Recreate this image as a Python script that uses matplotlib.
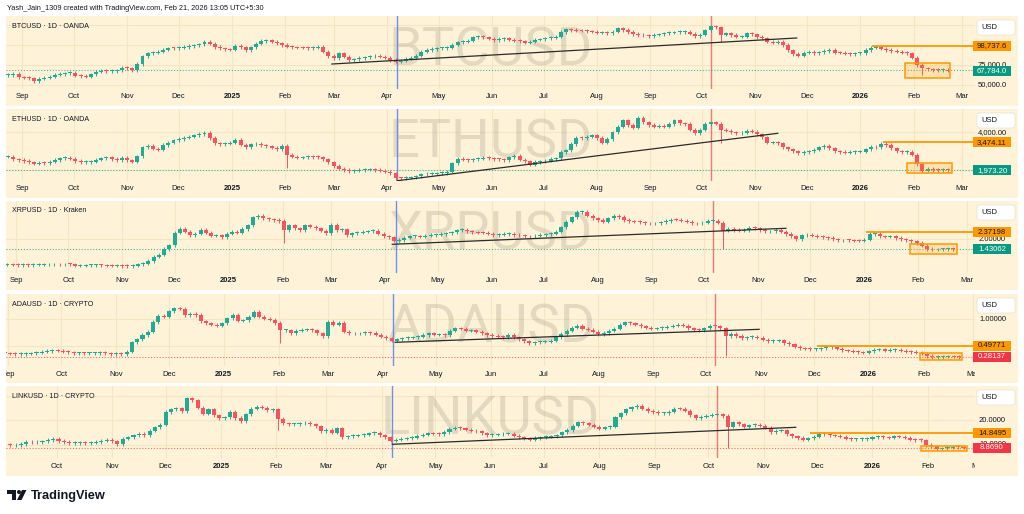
import numpy as np
import matplotlib
matplotlib.use("Agg")
import matplotlib.pyplot as plt
from matplotlib.patches import Rectangle, FancyBboxPatch, Circle, Polygon
from matplotlib.transforms import Bbox, TransformedBbox, blended_transform_factory, IdentityTransform

# ---------------------------------------------------------------- data
origin = "2024-09-01"
candle_first = "2024-08-24"   # first (3-day) candle
candle_step = 3

month_ticks = ["2024-09-01", "2024-10-01", "2024-11-01", "2024-12-01", "2025-01-01",
               "2025-02-01", "2025-03-01", "2025-04-01", "2025-05-01", "2025-06-01",
               "2025-07-01", "2025-08-01", "2025-09-01", "2025-10-01", "2025-11-01",
               "2025-12-01", "2026-01-01", "2026-02-01", "2026-03-01"]
month_labels = ["Sep", "Oct", "Nov", "Dec", "2025", "Feb", "Mar", "Apr", "May", "Jun",
                "Jul", "Aug", "Sep", "Oct", "Nov", "Dec", "2026", "Feb", "Mar"]

btc_close = [62100, 63400, 59200, 58500, 57900, 54500, 57500, 58800, 60000, 62500,
             63400, 64500, 65000, 61000, 60800, 60000, 62800, 66500, 67500, 67000,
             67100, 68000, 71500, 70500, 68400, 76000, 85500, 89500, 90500, 91500,
             94000, 96000, 95800, 96500, 97500, 98700, 99500, 100800, 104000, 101500,
             97500, 95800, 94800, 94000, 99000, 97000, 93700, 97000, 101500, 105000,
             106000, 104000, 102100, 100000, 97800, 97000, 96800, 96500, 95800, 96500,
             97800, 91500, 86100, 83200, 89500, 85200, 81000, 81900, 83500, 84500,
             85500, 86100, 85200, 84000, 81000, 78900, 80200, 82500, 84000, 86500,
             91500, 93700, 95000, 95800, 95800, 96500, 100500, 103500, 104200, 105500,
             109500, 111000, 109500, 108000, 106300, 107500, 108400, 106500, 105400, 104800,
             102900, 104200, 106500, 107200, 108400, 109000, 110500, 116500, 119800, 118900,
             118200, 118000, 117500, 116800, 115500, 116000, 114800, 117000, 121000, 119000,
             116500, 114000, 112600, 112000, 111400, 113000, 113500, 114800, 115500, 116000,
             116500, 116800, 114500, 111000, 113000, 118500, 123500, 122500, 113000, 114800,
             112500, 110500, 110500, 114800, 113500, 110000, 108400, 104000, 102900, 104000,
             100000, 93500, 88500, 86500, 90500, 91500, 89900, 91000, 92500, 93700,
             90500, 90300, 89000, 88500, 89500, 89500, 93700, 96600, 97500, 95500,
             93700, 92500, 91500, 90500, 89500, 84000, 74700, 70500, 69500, 68400,
             68000, 68800, 67784]

eth_close = [2700, 2565, 2520, 2470, 2400, 2320, 2380, 2360, 2440, 2520,
             2620, 2630, 2600, 2470, 2410, 2420, 2430, 2540, 2620, 2680,
             2580, 2520, 2630, 2510, 2430, 2720, 3200, 3280, 3130, 3080,
             3330, 3450, 3580, 3650, 3720, 3780, 3850, 3920, 3980, 3700,
             3420, 3380, 3400, 3450, 3620, 3350, 3200, 3360, 3380, 3320,
             3270, 3180, 3100, 3300, 2800, 2700, 2640, 2670, 2700, 2690,
             2670, 2560, 2400, 2200, 2050, 1990, 1940, 1960, 1990, 2010,
             2030, 1990, 1950, 1900, 1820, 1550, 1545, 1580, 1600, 1650,
             1750, 1790, 1800, 1820, 1830, 1900, 2350, 2600, 2540, 2530,
             2560, 2600, 2650, 2620, 2570, 2560, 2500, 2680, 2750, 2550,
             2450, 2280, 2420, 2450, 2480, 2580, 2620, 2950, 3050, 3380,
             3720, 3700, 3780, 3850, 3700, 3450, 3650, 4000, 4300, 4650,
             4400, 4250, 4800, 4550, 4400, 4300, 4350, 4300, 4450, 4650,
             4500, 4450, 4150, 3950, 4150, 4450, 4550, 4480, 4150, 4100,
             4000, 3950, 3980, 4100, 4050, 3900, 3750, 3450, 3480, 3420,
             3200, 3100, 3000, 2880, 2950, 3000, 3080, 3200, 3300, 3150,
             3000, 2950, 2920, 2950, 2970, 2980, 3100, 3220, 3200, 3380,
             3330, 3150, 3000, 2950, 2960, 2800, 2300, 1950, 2040, 1990,
             1980, 1990, 1973.2]

xrp_close = [0.58, 0.58, 0.57, 0.56, 0.57, 0.55, 0.57, 0.58, 0.59, 0.59,
             0.60, 0.59, 0.61, 0.60, 0.53, 0.53, 0.54, 0.54, 0.55, 0.54,
             0.53, 0.52, 0.52, 0.51, 0.50, 0.53, 0.60, 0.63, 0.78, 1.02,
             1.13, 1.45, 1.65, 2.35, 2.55, 2.40, 2.20, 2.30, 2.50, 2.35,
             2.18, 2.20, 2.10, 2.30, 2.40, 2.35, 2.55, 2.75, 3.20, 3.30,
             3.15, 3.10, 3.05, 3.00, 2.50, 2.75, 2.60, 2.50, 2.75, 2.68,
             2.60, 2.45, 2.32, 2.80, 2.50, 2.54, 2.22, 2.32, 2.35, 2.40,
             2.43, 2.46, 2.30, 2.15, 2.10, 1.90, 1.95, 2.08, 2.15, 2.15,
             2.13, 2.18, 2.22, 2.25, 2.28, 2.32, 2.38, 2.48, 2.50, 2.42,
             2.37, 2.36, 2.34, 2.30, 2.22, 2.24, 2.28, 2.30, 2.22, 2.20,
             2.15, 2.14, 2.18, 2.22, 2.27, 2.30, 2.40, 2.65, 2.95, 3.20,
             3.50, 3.50, 3.30, 3.15, 3.05, 2.96, 3.15, 3.30, 3.22, 3.05,
             2.97, 2.95, 2.93, 2.87, 2.86, 2.86, 2.92, 3.00, 3.08, 3.07,
             3.02, 2.95, 2.88, 2.86, 2.90, 3.00, 3.02, 2.90, 2.45, 2.58,
             2.50, 2.45, 2.50, 2.63, 2.60, 2.50, 2.42, 2.42, 2.52, 2.40,
             2.28, 2.15, 1.98, 2.20, 2.22, 2.18, 2.13, 2.10, 2.06, 1.99,
             1.92, 1.94, 1.93, 1.91, 1.90, 1.96, 2.28, 2.30, 2.15, 2.12,
             2.15, 2.06, 1.98, 1.93, 1.88, 1.78, 1.62, 1.45, 1.42, 1.43,
             1.44, 1.48, 1.43062]

ada_close = [0.35, 0.35, 0.352, 0.345, 0.335, 0.34, 0.345, 0.352, 0.365, 0.38,
             0.395, 0.41, 0.405, 0.38, 0.37, 0.355, 0.355, 0.35, 0.355, 0.355,
             0.36, 0.35, 0.34, 0.355, 0.34, 0.38, 0.56, 0.62, 0.70, 0.76,
             0.95, 1.07, 1.05, 1.15, 1.21, 1.20, 1.08, 1.11, 1.08, 0.96,
             0.92, 0.90, 0.88, 0.92, 1.02, 1.08, 0.97, 0.98, 1.05, 1.14,
             1.05, 1.01, 0.99, 0.93, 0.79, 0.79, 0.74, 0.78, 0.80, 0.81,
             0.79, 0.73, 0.68, 0.95, 0.90, 0.93, 0.76, 0.73, 0.73, 0.735,
             0.75, 0.74, 0.71, 0.67, 0.64, 0.59, 0.62, 0.64, 0.65, 0.66,
             0.67, 0.70, 0.73, 0.71, 0.71, 0.70, 0.78, 0.83, 0.82, 0.78,
             0.79, 0.76, 0.73, 0.70, 0.68, 0.67, 0.66, 0.70, 0.66, 0.62,
             0.58, 0.54, 0.56, 0.57, 0.57, 0.59, 0.66, 0.72, 0.78, 0.84,
             0.88, 0.82, 0.80, 0.76, 0.72, 0.74, 0.78, 0.82, 0.90, 0.94,
             0.92, 0.90, 0.87, 0.84, 0.82, 0.83, 0.84, 0.86, 0.88, 0.90,
             0.88, 0.83, 0.80, 0.79, 0.83, 0.88, 0.87, 0.83, 0.68, 0.72,
             0.68, 0.64, 0.66, 0.67, 0.65, 0.61, 0.58, 0.59, 0.60, 0.55,
             0.52, 0.48, 0.45, 0.44, 0.43, 0.43, 0.45, 0.47, 0.48, 0.44,
             0.41, 0.40, 0.385, 0.37, 0.365, 0.39, 0.42, 0.43, 0.405, 0.415,
             0.42, 0.40, 0.385, 0.375, 0.36, 0.345, 0.30, 0.275, 0.28, 0.285,
             0.29, 0.285, 0.28137]

link_close = [10.5, 10.4, 10.3, 10.2, 9.8, 10.0, 10.4, 11.2, 11.0, 11.2,
              11.5, 12.0, 12.6, 11.6, 11.2, 10.7, 10.8, 10.9, 10.7, 10.9,
              11.2, 11.8, 12.0, 11.5, 10.4, 12.5, 13.2, 14.0, 14.6, 14.1,
              15.8, 17.2, 18.3, 23.5, 24.5, 25.0, 23.8, 29.0, 28.3, 25.3,
              22.8, 24.5, 22.2, 20.9, 21.3, 23.5, 21.0, 19.8, 22.5, 24.8,
              25.5, 25.2, 24.3, 24.6, 20.6, 18.9, 18.5, 18.5, 18.8, 19.1,
              18.4, 17.6, 15.5, 16.3, 15.0, 16.8, 13.2, 13.5, 13.7, 13.9,
              14.2, 14.8, 15.0, 14.0, 13.2, 11.8, 12.2, 12.6, 12.7, 13.0,
              13.7, 14.2, 14.7, 14.6, 14.4, 15.3, 16.6, 17.0, 16.8, 16.2,
              15.8, 15.5, 14.8, 14.1, 14.2, 14.3, 14.6, 14.6, 13.8, 13.2,
              12.5, 12.2, 12.8, 13.2, 13.4, 13.5, 13.9, 15.2, 16.1, 17.8,
              19.2, 18.9, 18.2, 17.5, 16.7, 17.2, 17.5, 21.3, 22.9, 24.6,
              25.4, 26.0, 24.8, 23.9, 23.5, 22.9, 23.0, 23.6, 24.9, 24.8,
              24.0, 22.2, 21.0, 21.5, 21.9, 22.3, 22.5, 21.8, 17.5, 19.3,
              18.5, 17.4, 18.0, 18.2, 17.9, 17.0, 15.2, 15.8, 16.0, 14.3,
              13.5, 12.8, 12.1, 12.7, 13.4, 14.5, 14.3, 14.0, 13.8, 13.4,
              12.6, 12.3, 12.3, 12.4, 12.6, 13.2, 13.6, 13.2, 13.0, 13.6,
              13.4, 12.9, 12.2, 12.0, 11.9, 10.0, 9.5, 8.4, 8.6, 8.8,
              9.2, 9.0, 8.869]

closes = [btc_close, eth_close, xrp_close, ada_close, link_close]
symbols = ["BTCUSD", "ETHUSD", "XRPUSD", "ADAUSD", "LINKUSD"]
titles = ["BTCUSD \u00b7 1D \u00b7 OANDA", "ETHUSD \u00b7 1D \u00b7 OANDA", "XRPUSD \u00b7 1D \u00b7 Kraken",
          "ADAUSD \u00b7 1D \u00b7 CRYPTO", "LINKUSD \u00b7 1D \u00b7 CRYPTO"]
last_price = [67784.0, 1973.20, 1.43062, 0.28137, 8.8690]
last_text = ["67,784.0", "1,973.20", "1.43062", "0.28137", "8.8690"]
last_is_up = [True, True, True, False, False]
level_price = [98737.6, 3474.11, 2.37198, 0.49771, 14.8495]
level_text = ["98,737.6", "3,474.11", "2.37198", "0.49771", "14.8495"]
level_start = ["2026-01-08", "2026-01-14", "2026-01-02", "2025-12-03", "2025-11-27"]
grid_ticks = [[50000, 75000, 100000, 125000], [2000, 4000], [2.0], [0.5, 1.0], [10, 20, 30]]
label_ticks = [[50000, 75000], [4000], [2.0], [1.0], [10, 20]]
tick_fmt = ["{:,.1f}", "{:,.2f}", "{:.5f}", "{:.5f}", "{:.4f}"]
# consolidation boxes: (start, end, low, high)
boxes = [("2026-01-27", "2026-02-22", 58690, 77635),
         ("2026-01-28", "2026-02-23", 1812, 2348),
         ("2026-01-27", "2026-02-23", 1.154, 1.724),
         ("2026-01-30", "2026-02-23", 0.224, 0.352),
         ("2026-01-28", "2026-02-23", 7.52, 9.687)]
# trend lines: (date1, price1, date2, price2)
trends = [("2025-02-28", 75994, "2025-11-25", 108832),
          ("2025-04-07", 1416, "2025-11-14", 3956),
          ("2025-04-05", 1.7075, "2025-11-17", 2.593),
          ("2025-04-08", 0.5616, "2025-10-31", 0.809),
          ("2025-04-07", 10.26, "2025-11-19", 17.21)]
# notable long lower wicks
extra_lows = [{"2025-10-11": 104000, "2026-02-05": 62000},
              {"2025-02-03": 2080, "2025-10-11": 3450},
              {"2025-02-03": 1.80, "2025-10-11": 1.45},
              {"2025-02-03": 0.54, "2025-10-11": 0.30},
              {"2025-02-03": 16.0, "2025-10-11": 8.7}]
blue_line_date = "2025-04-07"
red_line_date = "2025-10-06"

# ---------------------------------------------------------------- layout (pixels)
W, H = 1024, 514
tops = [16, 109, 201, 294, 386]
plot_bottoms = [89, 181, 273, 366, 458]
panel_bottoms = [106, 198, 290, 383, 476]
ref_px = [70.5, 170.3, 249.3, 357.0, 447.7]          # pixel row of last price
units_per_px = [1263, 53.6, 0.05537, 0.01906, 0.409]
time_x0 = [22, 22, 16, 8.2, 3.2]                      # pixel of 2024-09-01
px_per_day = [1.7216, 1.7216, 1.742, 1.767, 1.785]
PL, PR, AR = 6, 975, 1018

BG = "#FEF3D8"
GRID = "#F4E5C3"
TXT = "#131722"
UP = "#22AB94"
DN = "#F7525F"
LBL_UP = "#089981"
LBL_DN = "#F23645"
ORANGE = "#FF9800"
SMALL = "Liberation Sans"

fig = plt.figure(figsize=(W / 100, H / 100), dpi=100)
fig.patch.set_facecolor("white")


def fx(px):
    return px / W


def fy(py):
    return 1 - py / H


o_date = np.datetime64(origin)


def day(s):
    return int((np.datetime64(s) - o_date).astype(int))


ncand = len(btc_close)
cdays = day(candle_first) + candle_step * np.arange(ncand)
mdays = np.array([day(t) for t in month_ticks])
clip_bbox = TransformedBbox(Bbox([[fx(PL), 0], [fx(PR), 1]]), fig.transFigure)
idt = IdentityTransform()

fig.text(fx(7), fy(9), "Yash_Jain_1309 created with TradingView.com, Feb 21, 2026 13:05 UTC+5:30",
         fontsize=5.3, family=SMALL, color=TXT, va="center", ha="left")

for i in range(5):
    T, B, PB = tops[i], plot_bottoms[i], panel_bottoms[i]
    upp = units_per_px[i]
    ref = last_price[i]
    rpx = ref_px[i]
    x0, ppd = time_x0[i], px_per_day[i]

    fig.add_artist(Rectangle((fx(PL), fy(PB)), fx(AR) - fx(PL), fy(T) - fy(PB),
                             transform=fig.transFigure, facecolor=BG, edgecolor="none", zorder=-10))

    ax = fig.add_axes([fx(PL), fy(B), fx(PR) - fx(PL), fy(T) - fy(B)])
    ax.set_facecolor("none")
    for s in ax.spines.values():
        s.set_visible(False)
    ax.set_xticks([])
    ax.set_yticks([])
    ylim = (ref - (B - rpx) * upp, ref + (rpx - T) * upp)
    xlim = ((PL - x0) / ppd, (PR - x0) / ppd)
    ax.set_ylim(*ylim)
    ax.set_xlim(*xlim)

    # grid
    vis_m = mdays[(mdays > xlim[0]) & (mdays < xlim[1])]
    ax.vlines(vis_m, ylim[0], ylim[1], color=GRID, lw=0.8, zorder=0.5)
    for tv in grid_ticks[i]:
        ax.axhline(tv, color=GRID, lw=0.8, zorder=0.5)

    # watermark
    wy = 1 - (((T + B) / 2 - 2) - T) / (B - T)
    ax.text(0.5, wy, symbols[i], transform=ax.transAxes, ha="center", va="center",
            fontsize=39, family="Roboto", color="#A39D8B", alpha=0.30, zorder=1)

    # vertical markers
    ax.axvline(day(blue_line_date), color="#5F84EE", lw=1.0, alpha=0.9, zorder=2)
    ax.axvline(day(red_line_date), color="#F26B6B", lw=1.0, alpha=0.9, zorder=2)

    # current price dotted line
    lc = LBL_UP if last_is_up[i] else LBL_DN
    ax.axhline(last_price[i], color=lc, lw=0.8, ls=(0, (1, 1.6)), alpha=0.7, zorder=2)

    # candles
    c = np.asarray(closes[i], dtype=float)
    o = np.r_[c[0], c[:-1]]
    up = c >= o
    cols = np.where(up, UP, DN)
    lo = np.minimum(o, c)
    hi = np.maximum(o, c)
    body = np.maximum(hi - lo, 0.9 * upp)
    lows = lo - 1.6 * upp
    highs = hi + 1.6 * upp
    for ds, lv in extra_lows[i].items():
        k = int(np.argmin(np.abs(cdays - day(ds))))
        lows[k] = min(lows[k], lv)
    ax.vlines(cdays, lows, highs, colors=cols, lw=0.7, zorder=3)
    ax.bar(cdays, body, bottom=lo, width=2.3, color=cols, linewidth=0, zorder=4)

    # trend line
    d1, p1, d2, p2 = trends[i]
    ax.plot([day(d1), day(d2)], [p1, p2], color="#2B2B2B", lw=0.9, zorder=5)

    # level line
    ax.hlines(level_price[i], day(level_start[i]), xlim[1], color=ORANGE, lw=1.3, zorder=5)

    # consolidation box
    bs, be, bl, bh = boxes[i]
    ax.add_patch(Rectangle((day(bs), bl), day(be) - day(bs), bh - bl,
                           facecolor=(1.0, 0.596, 0.0, 0.18), edgecolor=ORANGE, lw=1.1, zorder=6))

    # time axis labels
    tr = blended_transform_factory(ax.transData, fig.transFigure)
    for md, ml in zip(mdays, month_labels):
        xpix = x0 + md * ppd
        if xpix < PL or xpix > PR + 6:
            continue
        t = fig.text(md, fy(PB - 9), ml, transform=tr, ha="center", va="center",
                     fontsize=5.5, family=SMALL, color=TXT,
                     fontweight="bold" if ml.isdigit() else "normal")
        t.set_clip_on(True)
        t.set_clip_box(clip_bbox)

    # title
    fig.text(fx(12), fy(T + 10), titles[i], fontsize=5.1, family=SMALL, color=TXT,
             va="center", ha="left")

    # price axis
    axp = fig.add_axes([fx(PR), fy(B), fx(AR) - fx(PR), fy(T) - fy(B)])
    axp.set_facecolor("none")
    axp.axis("off")
    axp.set_xlim(PR, AR)
    axp.set_ylim(*ylim)
    for tv in label_ticks[i]:
        axp.text(992.5, tv, tick_fmt[i].format(tv), ha="center", va="center", fontsize=5.5,
                 family=SMALL, color=TXT, zorder=1)
    for val, txt, fc, tc in [(level_price[i], level_text[i], ORANGE, TXT),
                             (last_price[i], last_text[i], lc, "white")]:
        axp.add_patch(Rectangle((973, val - 5 * upp), 38, 10 * upp, facecolor=fc,
                                edgecolor="none", zorder=3, clip_on=False))
        axp.text(992, val, txt, ha="center", va="center", fontsize=5.6, family=SMALL,
                 color=tc, zorder=4)

    # USD box
    fig.add_artist(FancyBboxPatch((977, H - (T + 19)), 38, 15,
                                  boxstyle="round,pad=0,rounding_size=2.5", transform=idt,
                                  facecolor="white", edgecolor="#E6E0D0", lw=0.5, zorder=5))
    fig.text(fx(981), fy(T + 11.5), "USD", fontsize=5.5, family=SMALL, color=TXT,
             va="center", ha="left", zorder=6)

# footer logo
fig.add_artist(Rectangle((7, H - 494), 9, 4, transform=idt, facecolor=TXT, edgecolor="none"))
fig.add_artist(Rectangle((11.5, H - 500), 4.5, 10, transform=idt, facecolor=TXT, edgecolor="none"))
fig.add_artist(Circle((19, H - 492), 2.0, transform=idt, facecolor=TXT, edgecolor="none"))
fig.add_artist(Polygon([(17, H - 500), (22, H - 490), (26.5, H - 490), (21.5, H - 500)],
                       closed=True, transform=idt, facecolor=TXT, edgecolor="none"))
fig.text(fx(31), fy(495.5), "TradingView", fontsize=9.2, family=SMALL, fontweight="bold",
         color=TXT, va="center", ha="left")

fig.savefig("out.png", dpi=100)
